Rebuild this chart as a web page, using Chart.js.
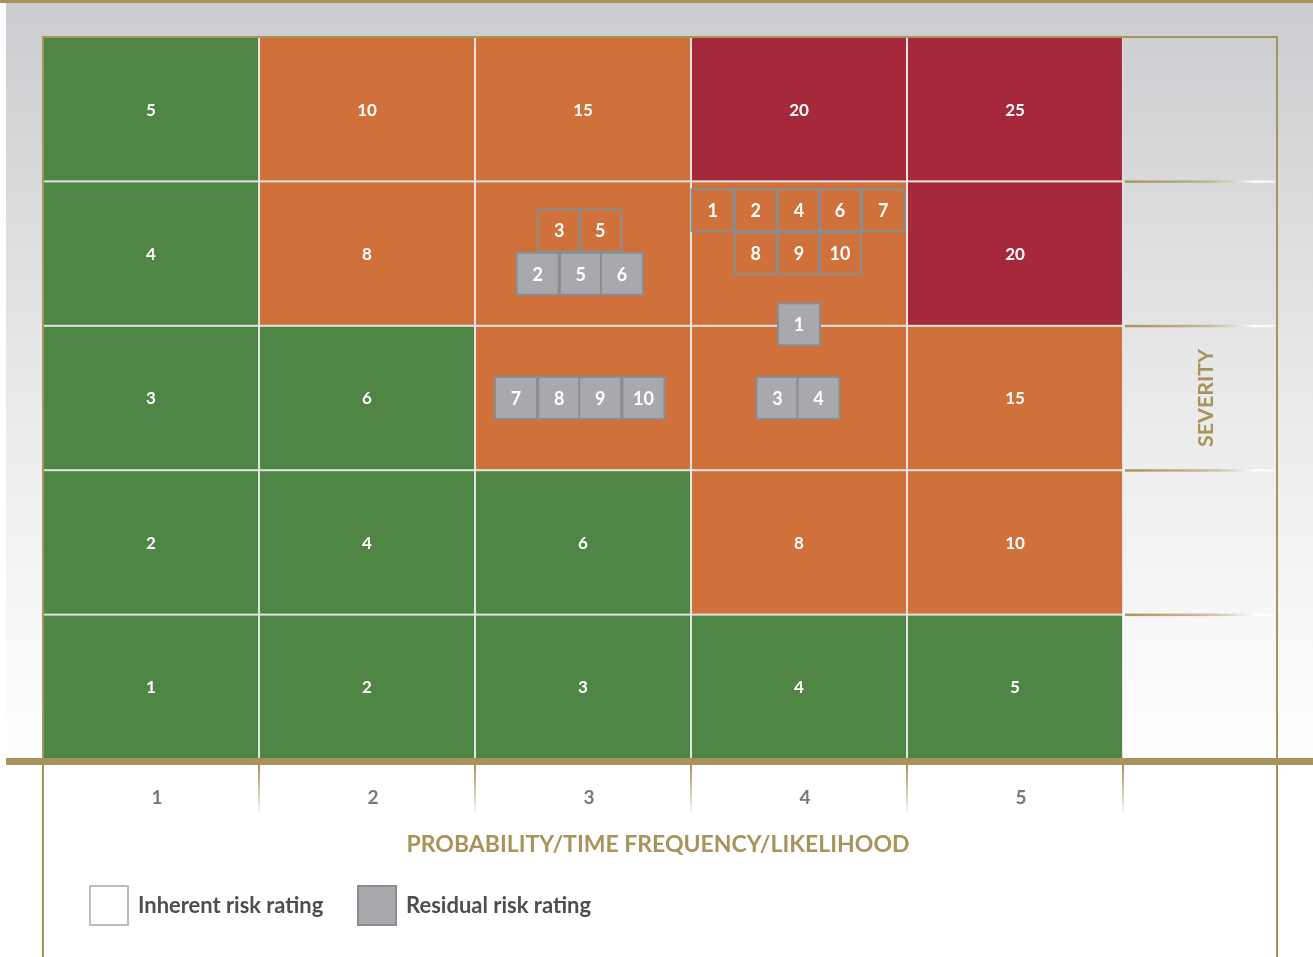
<!DOCTYPE html>
<html>
<head>
<meta charset="utf-8">
<title>Risk matrix</title>
<script src="https://cdn.jsdelivr.net/npm/chart.js@4.4.1/dist/chart.umd.min.js"></script>
<style>
  html, body { margin: 0; padding: 0; background: #fff; }
  #wrap { width: 1313px; height: 957px; position: relative; }
</style>
</head>
<body>
<div id="wrap"><canvas id="riskMatrix"></canvas></div>
<script>
const likelihood = [1, 2, 3, 4, 5];
const severity = [1, 2, 3, 4, 5];

// numbers printed in the cells, from severity 1 (bottom) to 5 (top); null = none shown
const scores = [
  [1, 2, 3, 4, 5],
  [2, 4, 6, 8, 10],
  [3, 6, null, null, 15],
  [4, 8, null, null, 20],
  [5, 10, 15, 20, 25]
];
const ratings = [
  ['low', 'low', 'low', 'low', 'low'],
  ['low', 'low', 'low', 'medium', 'medium'],
  ['low', 'low', 'medium', 'medium', 'medium'],
  ['low', 'medium', 'medium', 'medium', 'high'],
  ['low', 'medium', 'medium', 'high', 'high']
];

// risk ids placed on the matrix (x = likelihood, y = severity)
const inherentIds = ['3', '5', '1', '2', '4', '6', '7', '8', '9', '10'];
const inherentX = [2.89, 3.08, 3.60, 3.80, 4.00, 4.19, 4.39, 3.80, 4.00, 4.19];
const inherentY = [4.16, 4.16, 4.30, 4.30, 4.30, 4.30, 4.30, 4.00, 4.00, 4.00];

const residualIds = ['2', '5', '6', '1', '7', '8', '9', '10', '3', '4'];
const residualX = [2.79, 2.99, 3.18, 4.00, 2.69, 2.89, 3.08, 3.28, 3.90, 4.09];
const residualY = [3.86, 3.86, 3.86, 3.51, 3.00, 3.00, 3.00, 3.00, 3.00, 3.00];

const xTitle = 'PROBABILITY/TIME FREQUENCY/LIKELIHOOD';
const yTitle = 'SEVERITY';

const ratingColors = { low: '#4f8545', medium: '#d0703b', high: '#a5293a' };
const gold = '#a8935a';
const boxBorder = '#8b8c8e';
const boxFill = '#a8a9ac';
const FONT = 'Lato, "Open Sans", sans-serif';

function fitFont(ctx, text, width, weight) {
  let size = 30;
  ctx.font = weight + ' ' + size + 'px ' + FONT;
  size = size * width / ctx.measureText(text).width;
  ctx.font = weight + ' ' + size.toFixed(1) + 'px ' + FONT;
}

const matrixPlugin = {
  id: 'matrixPlugin',
  beforeDatasetsDraw(chart) {
    const { ctx, chartArea: a, scales: { x, y } } = chart;
    const W = chart.width, H = chart.height;
    const right = 1277;
    ctx.save();
    // backdrop
    ctx.fillStyle = '#fff';
    ctx.fillRect(0, 0, W, H);
    const g = ctx.createLinearGradient(0, 3, 0, 760);
    g.addColorStop(0, '#cbcccf');
    g.addColorStop(0.55, '#ebebec');
    g.addColorStop(1, '#ffffff');
    ctx.fillStyle = g;
    ctx.fillRect(6, 3, W - 6, 758);
    ctx.fillStyle = gold;
    ctx.fillRect(0, 0, W, 3);

    // cells
    ctx.fillStyle = '#e4e4e4';
    ctx.fillRect(a.left, a.top, a.right - a.left, a.bottom - a.top);
    severity.forEach((s, si) => {
      likelihood.forEach((l, li) => {
        const x0 = x.getPixelForValue(l - 0.5), x1 = x.getPixelForValue(l + 0.5);
        const y0 = y.getPixelForValue(s + 0.5), y1 = y.getPixelForValue(s - 0.5);
        ctx.fillStyle = ratingColors[ratings[si][li]];
        ctx.fillRect(x0 + 1, y0 + 1, x1 - x0 - 2, y1 - y0 - 2);
        if (scores[si][li] !== null) {
          ctx.fillStyle = '#fff';
          ctx.font = 'bold 17px ' + FONT;
          ctx.textAlign = 'center';
          ctx.textBaseline = 'middle';
          ctx.fillText(String(scores[si][li]), (x0 + x1) / 2, (y0 + y1) / 2 + 1);
        }
      });
    });

    // frame
    ctx.strokeStyle = gold;
    ctx.lineWidth = 2;
    ctx.beginPath();
    ctx.moveTo(a.left, H); ctx.lineTo(a.left, a.top); ctx.lineTo(right, a.top); ctx.lineTo(right, H);
    ctx.stroke();
    ctx.fillStyle = gold;
    ctx.fillRect(6, a.bottom - 1, W - 6, 7);

    // severity separators in the side column
    severity.slice(0, -1).forEach(s => {
      const py = y.getPixelForValue(s + 0.5);
      const lg = ctx.createLinearGradient(a.right, 0, right, 0);
      lg.addColorStop(0, gold);
      lg.addColorStop(0.5, 'rgba(168,147,90,0.6)');
      lg.addColorStop(0.85, 'rgba(255,255,255,0.9)');
      lg.addColorStop(1, 'rgba(255,255,255,0.6)');
      ctx.fillStyle = lg;
      ctx.fillRect(a.right + 2, py - 1, right - a.right - 4, 2.5);
    });

    // tick separators below the axis line
    likelihood.forEach(l => {
      const px = x.getPixelForValue(l + 0.5);
      const vg = ctx.createLinearGradient(0, a.bottom + 6, 0, a.bottom + 58);
      vg.addColorStop(0, gold);
      vg.addColorStop(1, 'rgba(168,147,90,0)');
      ctx.fillStyle = vg;
      ctx.fillRect(px - 1, a.bottom + 6, 2, 52);
    });
    ctx.restore();
  },
  afterDatasetsDraw(chart) {
    const { ctx } = chart;
    ctx.save();
    ctx.fillStyle = '#fff';
    ctx.font = 'bold 18px ' + FONT;
    ctx.textAlign = 'center';
    ctx.textBaseline = 'middle';
    chart.data.datasets.forEach((ds, i) => {
      chart.getDatasetMeta(i).data.forEach((pt, j) => {
        ctx.fillText(ds.data[j].id, pt.x, pt.y + 1);
      });
    });
    ctx.restore();
  },
  afterDraw(chart) {
    const { ctx, chartArea: a, scales: { x } } = chart;
    ctx.save();
    ctx.textBaseline = 'middle';
    ctx.textAlign = 'center';
    // tick labels
    ctx.fillStyle = '#77787b';
    ctx.font = 'bold 19px ' + FONT;
    likelihood.forEach(l => ctx.fillText(String(l), x.getPixelForValue(l) + 6, 798));

    // axis titles
    ctx.fillStyle = gold;
    fitFont(ctx, xTitle, 504, 'bold');
    ctx.fillText(xTitle, 658, 845);
    ctx.save();
    ctx.translate(1206, 398);
    ctx.rotate(-Math.PI / 2);
    fitFont(ctx, yTitle, 98, 'bold');
    ctx.fillText(yTitle, 0, 0);
    ctx.restore();

    // legend
    ctx.textAlign = 'left';
    const items = [
      { box: [90, 886], fill: '#ffffff', stroke: '#bdbdbd', text: chart.data.datasets[0].label, tx: 138 },
      { box: [358, 886], fill: boxFill, stroke: boxBorder, text: chart.data.datasets[1].label, tx: 406 }
    ];
    items.forEach(it => {
      ctx.fillStyle = it.fill;
      ctx.strokeStyle = it.stroke;
      ctx.lineWidth = 2;
      ctx.fillRect(it.box[0], it.box[1], 38, 39);
      ctx.strokeRect(it.box[0], it.box[1], 38, 39);
      ctx.fillStyle = '#4d4e50';
      fitFont(ctx, it.text, 185, 'bold');
      ctx.fillText(it.text, it.tx, 906);
    });
    ctx.restore();
  }
};

const toPoints = (ids, xs, ys) => ids.map((id, i) => ({ x: xs[i], y: ys[i], id }));

new Chart(document.getElementById('riskMatrix'), {
  type: 'scatter',
  data: {
    datasets: [
      {
        label: 'Inherent risk rating',
        data: toPoints(inherentIds, inherentX, inherentY),
        pointStyle: 'rect',
        pointRadius: 29.7,
        pointHoverRadius: 29.7,
        backgroundColor: 'rgba(0,0,0,0)',
        borderColor: boxBorder,
        borderWidth: 2
      },
      {
        label: 'Residual risk rating',
        data: toPoints(residualIds, residualX, residualY),
        pointStyle: 'rect',
        pointRadius: 29.7,
        pointHoverRadius: 29.7,
        backgroundColor: boxFill,
        borderColor: boxBorder,
        borderWidth: 2
      }
    ]
  },
  options: {
    responsive: true,
    maintainAspectRatio: false,
    animation: false,
    events: [],
    layout: { padding: { left: 43, top: 37, right: 190, bottom: 198 } },
    scales: {
      x: { type: 'linear', min: 0.5, max: 5.5, display: false },
      y: { type: 'linear', min: 0.5, max: 5.5, display: false }
    },
    plugins: {
      legend: { display: false },
      tooltip: { enabled: false }
    }
  },
  plugins: [matrixPlugin]
});
</script>
</body>
</html>
